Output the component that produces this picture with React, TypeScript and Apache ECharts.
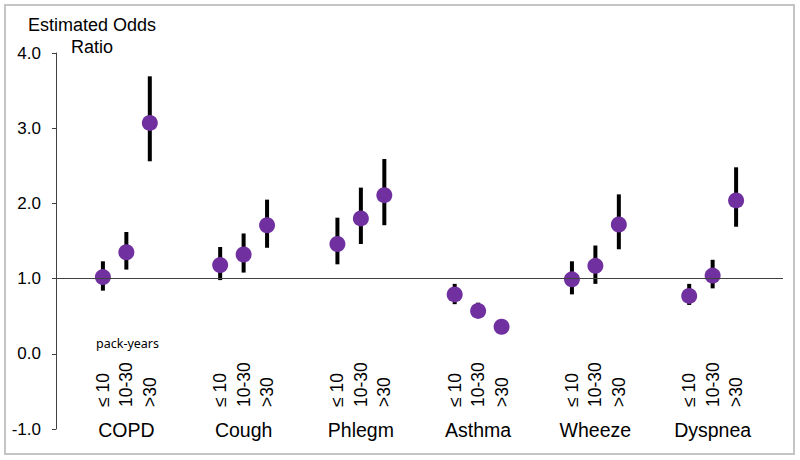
import React, { useEffect, useRef } from "react";
import * as echarts from "echarts";

const groups = ["COPD", "Cough", "Phlegm", "Asthma", "Wheeze", "Dyspnea"];
const packYears = ["≤ 10", "10-30", ">30"];
const estimates = [
  [1.02, 1.35, 3.07],
  [1.18, 1.32, 1.71],
  [1.46, 1.8, 2.11],
  [0.79, 0.57, 0.36],
  [0.99, 1.17, 1.72],
  [0.77, 1.04, 2.04],
];
const lower = [
  [0.84, 1.12, 2.56],
  [0.98, 1.08, 1.41],
  [1.19, 1.46, 1.71],
  [0.66, 0.5, 0.31],
  [0.79, 0.93, 1.39],
  [0.65, 0.87, 1.69],
];
const upper = [
  [1.23, 1.62, 3.69],
  [1.42, 1.6, 2.05],
  [1.81, 2.21, 2.59],
  [0.93, 0.68, 0.41],
  [1.23, 1.44, 2.12],
  [0.93, 1.25, 2.48],
];
const yTicks = [-1, 0, 1, 2, 3, 4];
const yTitle = "Estimated Odds\nRatio";
const unitLabel = "pack-years";

const SLOTS = 31;
const posOf = (g: number, k: number) => 2 + 5 * g + k;

export default function App() {
  const ref = useRef<HTMLDivElement>(null);
  useEffect(() => {
    if (!ref.current) return;
    const chart = echarts.init(ref.current, undefined, { renderer: "svg" });
    const points: number[][] = [];
    const bars: number[][] = [];
    const subLabels: Record<number, string> = {};
    const groupLabels: Record<number, string> = {};
    groups.forEach((name, g) => {
      groupLabels[posOf(g, 1)] = name;
      packYears.forEach((py, k) => {
        const x = posOf(g, k);
        subLabels[x] = py;
        points.push([x, estimates[g][k]]);
        bars.push([x, lower[g][k], upper[g][k]]);
      });
    });
    const font = "'Liberation Sans', Arial, sans-serif";
    chart.setOption({
      animation: false,
      backgroundColor: "#ffffff",
      grid: { left: 56, right: 17, top: 53, bottom: 31, containLabel: false },
      xAxis: [
        {
          type: "value",
          min: 0,
          max: SLOTS,
          interval: 1,
          position: "bottom",
          offset: -22,
          axisLine: { show: false },
          axisTick: { show: false },
          splitLine: { show: false },
          axisLabel: {
            rotate: 90,
            align: "left",
            verticalAlign: "middle",
            margin: 0,
            fontSize: 17.5,
            color: "#000",
            fontFamily: font,
            showMinLabel: true,
            showMaxLabel: true,
            formatter: (v: number) => subLabels[Math.round(v)] || "",
          },
        },
        {
          type: "value",
          min: 0,
          max: SLOTS,
          interval: 1,
          position: "bottom",
          offset: 0,
          axisLine: { show: false },
          axisTick: { show: false },
          splitLine: { show: false },
          axisLabel: {
            margin: 1,
            verticalAlign: "middle",
            fontSize: 19.5,
            color: "#000",
            fontFamily: font,
            formatter: (v: number) => groupLabels[Math.round(v)] || "",
          },
        },
      ],
      yAxis: {
        type: "value",
        min: yTicks[0],
        max: yTicks[yTicks.length - 1],
        interval: 1,
        axisLine: { show: true, lineStyle: { color: "#404040", width: 1 } },
        axisTick: { show: true, length: 4, lineStyle: { color: "#404040" } },
        splitLine: { show: false },
        axisLabel: {
          margin: 15,
          fontSize: 17,
          color: "#000",
          fontFamily: font,
          formatter: (v: number) => v.toFixed(1),
        },
      },
      graphic: [
        {
          type: "rect",
          shape: { x: 5, y: 5, width: 789, height: 449 },
          style: { fill: "none", stroke: "#c4c4c4", lineWidth: 2 },
          silent: true,
          z: -1,
        },
        {
          type: "text",
          x: 92,
          y: 14,
          style: {
            text: yTitle,
            align: "center",
            font: `18px ${font}`,
            lineHeight: 22,
            fill: "#000",
          },
        },
        {
          type: "text",
          x: 96,
          y: 337,
          style: {
            text: unitLabel,
            font: "12.5px 'Noto Sans', 'Open Sans', sans-serif",
            fill: "#000",
          },
        },
      ],
      series: [
        {
          type: "custom",
          xAxisIndex: 0,
          data: bars,
          encode: { x: 0, y: [1, 2] },
          z: 2,
          renderItem: (params: any, api: any) => {
            const x = api.value(0);
            const p1 = api.coord([x, api.value(1)]);
            const p2 = api.coord([x, api.value(2)]);
            return {
              type: "line",
              shape: { x1: p1[0], y1: p1[1], x2: p2[0], y2: p2[1] },
              style: { stroke: "#000", lineWidth: 4 },
            };
          },
        },
        {
          type: "scatter",
          xAxisIndex: 0,
          data: points,
          symbol: "circle",
          symbolSize: 16,
          itemStyle: { color: "#7030A0", opacity: 1 },
          z: 3,
          markLine: {
            silent: true,
            symbol: "none",
            label: { show: false },
            lineStyle: { color: "#404040", width: 1, type: "solid" },
            data: [{ yAxis: 1 }],
          },
        },
      ],
    });
    return () => chart.dispose();
  }, []);
  return (
    <div
      ref={ref}
      style={{ position: "absolute", left: 0, top: 0, width: 800, height: 460 }}
    />
  );
}
